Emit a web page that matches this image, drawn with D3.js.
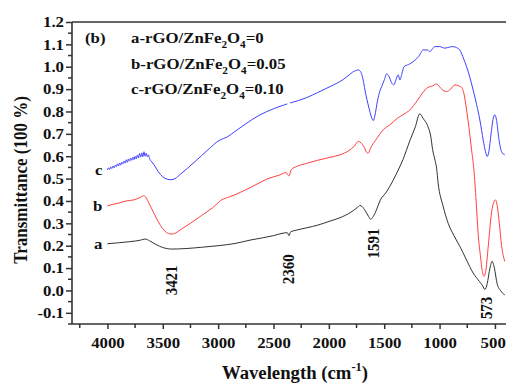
<!DOCTYPE html>
<html><head><meta charset="utf-8">
<script src="https://cdn.jsdelivr.net/npm/d3@7"></script>
<style>
body{margin:0;background:#fff}
text{font-family:"Liberation Serif","Times New Roman",serif;font-weight:bold;fill:#111}
</style>
</head><body>
<svg id="chart" width="506" height="384"></svg>
<script>
// ---- data (wavenumber cm^-1, transmittance) ----
const waveA = [4000,3900,3800,3700,3660,3620,3560,3500,3419,3300,3150,3000,2847,2712,2600,2500,2414,2375,2360,2345,2306,2200,2100,1990,1900,1800,1740,1719,1700,1670,1640,1623,1600,1570,1539,1480,1422,1365,1331,1268,1220,1178,1150,1103,1080,1063,1040,1027,1013,970,922,870,817,760,697,640,610,591,570,545,525,505,480,450,411];
const valA  = [0.209,0.213,0.218,0.225,0.230,0.222,0.205,0.192,0.185,0.187,0.193,0.200,0.210,0.225,0.235,0.245,0.256,0.258,0.245,0.262,0.268,0.280,0.292,0.310,0.325,0.350,0.372,0.380,0.375,0.355,0.330,0.318,0.330,0.360,0.400,0.440,0.490,0.547,0.585,0.670,0.730,0.790,0.770,0.730,0.690,0.630,0.580,0.547,0.480,0.380,0.300,0.245,0.197,0.140,0.078,0.040,0.020,0.004,0.030,0.100,0.130,0.100,0.030,0.000,-0.020];

const waveB = [4000,3950,3900,3850,3800,3760,3720,3690,3675,3655,3630,3600,3560,3520,3480,3440,3413,3380,3330,3250,3150,3050,2967,2900,2847,2750,2650,2550,2450,2387,2370,2360,2340,2291,2200,2100,2000,1900,1820,1770,1735,1710,1680,1660,1644,1620,1580,1509,1450,1380,1300,1268,1200,1150,1117,1060,1027,1000,970,937,900,862,830,801,780,756,735,711,690,670,652,630,615,600,585,560,530,510,495,480,460,440,411];
const valB  = [0.378,0.385,0.390,0.398,0.402,0.405,0.412,0.420,0.423,0.418,0.395,0.365,0.325,0.290,0.265,0.253,0.252,0.258,0.275,0.300,0.335,0.370,0.405,0.418,0.428,0.450,0.475,0.500,0.515,0.527,0.515,0.512,0.540,0.554,0.568,0.582,0.594,0.606,0.625,0.645,0.666,0.660,0.640,0.618,0.614,0.640,0.670,0.718,0.740,0.770,0.795,0.807,0.850,0.885,0.904,0.915,0.923,0.910,0.895,0.889,0.900,0.919,0.915,0.908,0.880,0.807,0.730,0.629,0.540,0.400,0.257,0.150,0.090,0.063,0.080,0.200,0.350,0.395,0.405,0.380,0.300,0.200,0.130];

const waveC = [4000,3990,3980,3970,3960,3950,3940,3930,3920,3910,3900,3890,3880,3870,3860,3850,3840,3830,3820,3810,3800,3790,3780,3770,3760,3750,3740,3730,3720,3710,3700,3690,3680,3670,3660,3650,3640,3630,3620,3600,3570,3540,3500,3460,3425,3390,3340,3280,3200,3100,2983,2922,2850,2750,2622,2500,2400,2375,2360,2350,2200,2100,1990,1880,1800,1780,1760,1735,1710,1690,1674,1640,1615,1599,1585,1560,1540,1523,1500,1478,1455,1435,1413,1395,1374,1358,1340,1322,1280,1238,1190,1148,1110,1088,1065,1042,1000,952,910,877,845,817,790,756,725,697,665,636,605,585,570,555,535,515,501,485,465,440,411];
const valC  = [0.539,0.548,0.540,0.552,0.545,0.556,0.548,0.560,0.553,0.566,0.556,0.570,0.560,0.574,0.566,0.578,0.569,0.584,0.573,0.588,0.578,0.592,0.582,0.596,0.585,0.600,0.588,0.605,0.592,0.612,0.596,0.615,0.598,0.620,0.600,0.614,0.598,0.606,0.590,0.575,0.555,0.530,0.508,0.497,0.495,0.500,0.520,0.545,0.580,0.625,0.673,0.685,0.710,0.745,0.785,0.812,0.830,0.834,null,0.838,0.862,0.885,0.911,0.940,0.970,0.978,0.982,0.986,0.975,0.940,0.896,0.820,0.775,0.759,0.780,0.850,0.890,0.911,0.940,0.968,0.955,0.930,0.919,0.940,0.964,0.941,0.970,1.000,1.010,1.023,1.045,1.075,1.075,1.067,1.080,1.090,1.090,1.083,1.088,1.090,1.085,1.075,1.045,1.000,0.950,0.896,0.830,0.762,0.670,0.620,0.599,0.620,0.700,0.770,0.785,0.760,0.680,0.620,0.606];

const seriesNames = ["a","b","c"];
const seriesColors = ["#333333","#ff4040","#4040ff"];
const legendLabels = [["a-rGO/ZnFe","2","O","4","=0"],["b-rGO/ZnFe","2","O","4","=0.05"],["c-rGO/ZnFe","2","O","4","=0.10"]];
const yTicks = [-0.1,0.0,0.1,0.2,0.3,0.4,0.5,0.6,0.7,0.8,0.9,1.0,1.1,1.2];
const xTicks = [4000,3500,3000,2500,2000,1500,1000,500];
const peakLabels = ["3421","2360","1591","573"];
const peakWaves = [3421,2360,1591,573];
const peakVals = [0.045,0.095,0.21,-0.078];

// ---- layout ----
const svg = d3.select("#chart");
const L = 72, R = 506, T = 22, B = 324;
const SX = 1.12; // horizontal glyph stretch of the reference
const x = d3.scaleLinear().domain([4320, 400]).range([L, R]);
const y = d3.scaleLinear().domain([-0.15, 1.2]).range([B, T]);
const axisColor = "#333";

// frame: top line
svg.append("line").attr("x1",L).attr("x2",R).attr("y1",T).attr("y2",T)
  .attr("stroke",axisColor).attr("stroke-width",1.5);

// Y axis
const fmt = v => d3.format(".1f")(v).replace("\u2212","-");
const yAxis = svg.append("g").attr("transform",`translate(${L},0)`)
  .call(d3.axisLeft(y).tickValues(yTicks).tickFormat(fmt).tickSize(6).tickPadding(3));
const yMinor = d3.range(-0.15, 1.2001, 0.1).map(v=>+v.toFixed(2));
yAxis.selectAll(".minor").data(yMinor).enter().append("line").attr("class","minor")
  .attr("x1",-4).attr("x2",0).attr("y1",d=>y(d)).attr("y2",d=>y(d));
yAxis.select(".domain").attr("d",`M0,${B}V${T}`);

// X axis
const xAxis = svg.append("g").attr("transform",`translate(0,${B})`)
  .call(d3.axisBottom(x).tickValues(xTicks).tickFormat(d=>d).tickSize(5).tickPadding(8));
const xMinor = [4250,3750,3250,2750,2250,1750,1250,750];
xAxis.selectAll(".minor").data(xMinor).enter().append("line").attr("class","minor")
  .attr("y1",0).attr("y2",4).attr("x1",d=>x(d)).attr("x2",d=>x(d));
xAxis.select(".domain").attr("d",`M${L},0H${R}`);

[yAxis,xAxis].forEach(g=>{
  g.selectAll("line,path").attr("stroke",axisColor).attr("stroke-width",1.5);
  g.selectAll(".domain").attr("stroke-width",1.6);
  g.selectAll("text").style("font-size","15px").style("fill","#111")
   .attr("font-family",null).attr("transform",`scale(${SX},1)`);
});
yAxis.selectAll(".tick text").attr("x",-8/SX);
xAxis.selectAll(".tick text").filter(d=>d===500).attr("x",-2);

// curves
svg.append("clipPath").attr("id","clp").append("rect")
  .attr("x",L).attr("y",T).attr("width",R-L).attr("height",B-T);
const line = d3.line().defined(d=>d[1]!==null).x(d=>x(d[0])).y(d=>y(d[1])).curve(d3.curveMonotoneX);
const series = [
  {w:waveA,v:valA},{w:waveB,v:valB},{w:waveC,v:valC}
];
const g = svg.append("g").attr("clip-path","url(#clp)");
series.forEach((s,i)=>{
  const pts = s.w.map((w,j)=>[w,s.v[j]]);
  g.append("path").attr("d",line(pts)).attr("fill","none")
   .attr("stroke",seriesColors[i]).attr("stroke-width",1);
});

// helper for stretched text
function txt(px,py,str,size,rot,anchor,sx){
  const s = sx===undefined ? SX : sx;
  const t = svg.append("text")
    .attr("transform",`translate(${px},${py}) scale(${s},1)`+(rot?` rotate(${rot})`:""))
    .style("font-size",size+"px").attr("text-anchor",anchor||"start");
  if(str!==null) t.text(str);
  return t;
}

// series labels at left end
seriesNames.forEach((n,i)=>{
  const s = series[i];
  txt(x(s.w[0])-5, y(s.v[0])+5, n, 15, 0, "end");
});

// panel label + legend
txt(85,43,"(b)",15);
legendLabels.forEach((parts,i)=>{
  const t = txt(131, 43+25.5*i, null, 15);
  t.append("tspan").text(parts[0]);
  t.append("tspan").text(parts[1]).attr("dy",5).style("font-size","10px");
  t.append("tspan").text(parts[2]).attr("dy",-5);
  t.append("tspan").text(parts[3]).attr("dy",5).style("font-size","10px");
  t.append("tspan").text(parts[4]).attr("dy",-5);
});

// peak annotations (rotated)
peakLabels.forEach((p,i)=>{
  txt(x(peakWaves[i])+5, y(peakVals[i]), p, 15, -90, "middle");
});

// axis titles
txt(27, 180, "Transmittance (100 %)", 17, -90, "middle");
const xt = txt(295, 378.5, null, 18, 0, "middle", 1.04);
xt.append("tspan").text("Wavelength (cm");
xt.append("tspan").text("-1").attr("dy",-8).style("font-size","12px");
xt.append("tspan").text(")").attr("dy",8);
</script>
</body></html>
